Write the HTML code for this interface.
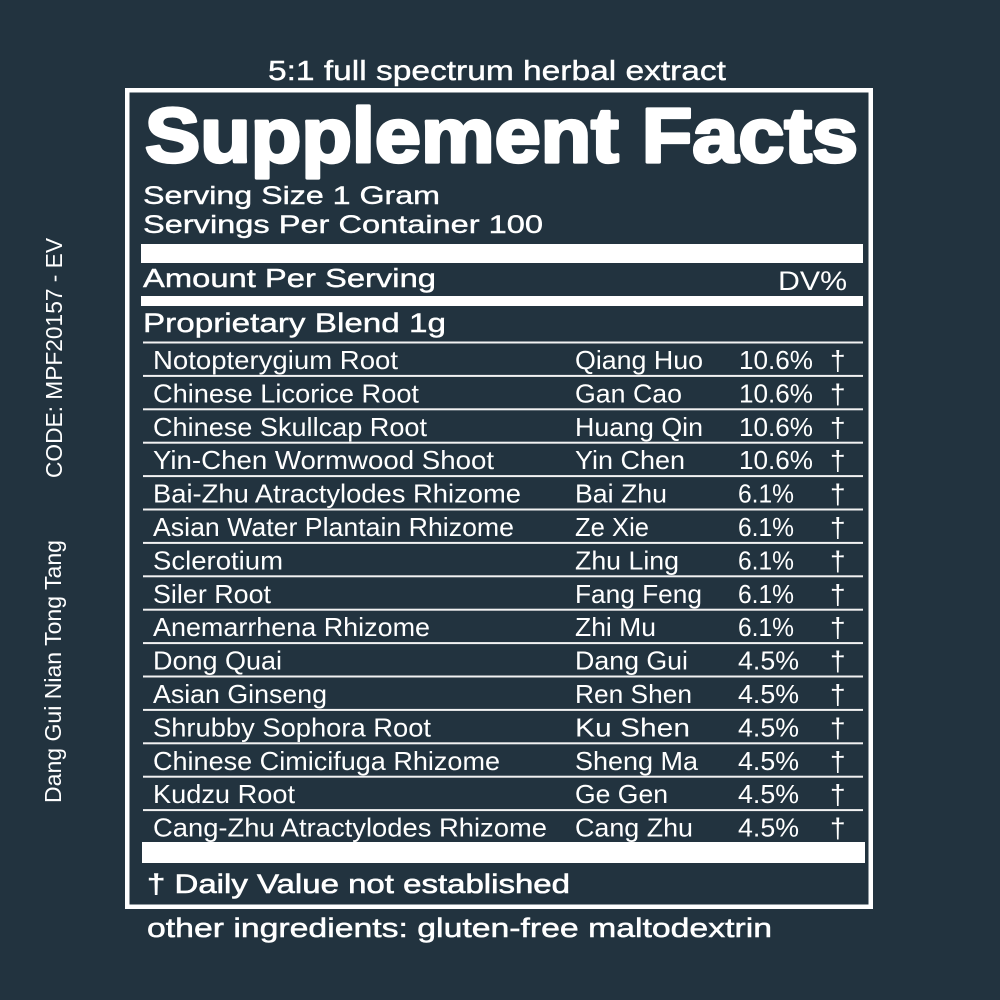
<!DOCTYPE html>
<html>
<head>
<meta charset="utf-8">
<style>
html,body{margin:0;padding:0;background:#22333f;}
svg{display:block;}
text{font-family:"Liberation Sans",Arial,sans-serif;fill:#ffffff;}
</style>
</head>
<body>
<svg width="1000" height="1000" viewBox="0 0 1000 1000" xmlns="http://www.w3.org/2000/svg">
<rect x="0" y="0" width="1000" height="1000" fill="#22333f"/>

<!-- vertical side texts -->
<text transform="translate(62,478) rotate(-90)" font-size="23" textLength="240" lengthAdjust="spacingAndGlyphs">CODE: MPF20157 - EV</text>
<text transform="translate(61,803) rotate(-90)" font-size="23" textLength="263" lengthAdjust="spacingAndGlyphs">Dang Gui Nian Tong Tang</text>

<!-- top caption -->
<text x="268" y="80" font-size="27.5" textLength="458" lengthAdjust="spacingAndGlyphs" stroke="#fff" stroke-width="0.4">5:1 full spectrum herbal extract</text>

<!-- box -->
<rect x="127.25" y="90.25" width="743.5" height="816.5" fill="none" stroke="#ffffff" stroke-width="4.5"/>

<!-- title -->
<text x="145" y="162" font-size="77" font-weight="bold" textLength="713" lengthAdjust="spacingAndGlyphs" stroke="#fff" stroke-width="3.2" stroke-linejoin="round">Supplement Facts</text>

<text x="143" y="204" font-size="25" textLength="297" lengthAdjust="spacingAndGlyphs" stroke="#fff" stroke-width="0.4">Serving Size 1 Gram</text>
<text x="143" y="233" font-size="25" textLength="400" lengthAdjust="spacingAndGlyphs" stroke="#fff" stroke-width="0.4">Servings Per Container 100</text>

<rect x="141" y="244" width="722" height="19" fill="#ffffff"/>

<text x="143" y="287" font-size="26" textLength="293" lengthAdjust="spacingAndGlyphs" stroke="#fff" stroke-width="0.4">Amount Per Serving</text>
<text x="778" y="290" font-size="27" textLength="69" lengthAdjust="spacingAndGlyphs">DV%</text>

<rect x="141" y="296" width="722" height="10" fill="#ffffff"/>

<text x="143" y="332" font-size="26.5" textLength="303" lengthAdjust="spacingAndGlyphs" stroke="#fff" stroke-width="0.4">Proprietary Blend 1g</text>

<!-- row lines -->
<g fill="#f2f2f2">
<rect x="143" y="341.5" width="720" height="2"/>
<rect x="143" y="374.9" width="720" height="2"/>
<rect x="143" y="408.3" width="720" height="2"/>
<rect x="143" y="441.7" width="720" height="2"/>
<rect x="143" y="475.1" width="720" height="2"/>
<rect x="143" y="508.5" width="720" height="2"/>
<rect x="143" y="541.9" width="720" height="2"/>
<rect x="143" y="575.3" width="720" height="2"/>
<rect x="143" y="608.7" width="720" height="2"/>
<rect x="143" y="642.1" width="720" height="2"/>
<rect x="143" y="675.5" width="720" height="2"/>
<rect x="143" y="708.9" width="720" height="2"/>
<rect x="143" y="742.3" width="720" height="2"/>
<rect x="143" y="775.7" width="720" height="2"/>
<rect x="143" y="809.1" width="720" height="2"/>
</g>

<g font-size="26">
<!-- row 1 -->
<text x="153" y="369" textLength="245" lengthAdjust="spacingAndGlyphs">Notopterygium Root</text>
<text x="575" y="369" textLength="128" lengthAdjust="spacingAndGlyphs">Qiang Huo</text>
<text x="739" y="369" textLength="74" lengthAdjust="spacingAndGlyphs">10.6%</text>
<text x="830" y="370" font-size="28">†</text>
<!-- row 2 -->
<text x="153" y="402.4" textLength="266" lengthAdjust="spacingAndGlyphs">Chinese Licorice Root</text>
<text x="575" y="402.4" textLength="107" lengthAdjust="spacingAndGlyphs">Gan Cao</text>
<text x="739" y="402.4" textLength="74" lengthAdjust="spacingAndGlyphs">10.6%</text>
<text x="830" y="403.4" font-size="28">†</text>
<!-- row 3 -->
<text x="153" y="435.8" textLength="274" lengthAdjust="spacingAndGlyphs">Chinese Skullcap Root</text>
<text x="575" y="435.8" textLength="128" lengthAdjust="spacingAndGlyphs">Huang Qin</text>
<text x="739" y="435.8" textLength="74" lengthAdjust="spacingAndGlyphs">10.6%</text>
<text x="830" y="436.8" font-size="28">†</text>
<!-- row 4 -->
<text x="153" y="469.2" textLength="341" lengthAdjust="spacingAndGlyphs">Yin-Chen Wormwood Shoot</text>
<text x="575" y="469.2" textLength="110" lengthAdjust="spacingAndGlyphs">Yin Chen</text>
<text x="739" y="469.2" textLength="74" lengthAdjust="spacingAndGlyphs">10.6%</text>
<text x="830" y="470.2" font-size="28">†</text>
<!-- row 5 -->
<text x="153" y="502.6" textLength="368" lengthAdjust="spacingAndGlyphs">Bai-Zhu Atractylodes Rhizome</text>
<text x="575" y="502.6" textLength="92" lengthAdjust="spacingAndGlyphs">Bai Zhu</text>
<text x="738" y="502.6" textLength="56" lengthAdjust="spacingAndGlyphs">6.1%</text>
<text x="830" y="503.6" font-size="28">†</text>
<!-- row 6 -->
<text x="153" y="536" textLength="361" lengthAdjust="spacingAndGlyphs">Asian Water Plantain Rhizome</text>
<text x="575" y="536" textLength="74" lengthAdjust="spacingAndGlyphs">Ze Xie</text>
<text x="738" y="536" textLength="56" lengthAdjust="spacingAndGlyphs">6.1%</text>
<text x="830" y="537" font-size="28">†</text>
<!-- row 7 -->
<text x="153" y="569.4" textLength="130" lengthAdjust="spacingAndGlyphs">Sclerotium</text>
<text x="575" y="569.4" textLength="104" lengthAdjust="spacingAndGlyphs">Zhu Ling</text>
<text x="738" y="569.4" textLength="56" lengthAdjust="spacingAndGlyphs">6.1%</text>
<text x="830" y="570.4" font-size="28">†</text>
<!-- row 8 -->
<text x="153" y="602.8" textLength="118" lengthAdjust="spacingAndGlyphs">Siler Root</text>
<text x="575" y="602.8" textLength="127" lengthAdjust="spacingAndGlyphs">Fang Feng</text>
<text x="738" y="602.8" textLength="56" lengthAdjust="spacingAndGlyphs">6.1%</text>
<text x="830" y="603.8" font-size="28">†</text>
<!-- row 9 -->
<text x="153" y="636.2" textLength="277" lengthAdjust="spacingAndGlyphs">Anemarrhena Rhizome</text>
<text x="575" y="636.2" textLength="81" lengthAdjust="spacingAndGlyphs">Zhi Mu</text>
<text x="738" y="636.2" textLength="56" lengthAdjust="spacingAndGlyphs">6.1%</text>
<text x="830" y="637.2" font-size="28">†</text>
<!-- row 10 -->
<text x="153" y="669.6" textLength="129" lengthAdjust="spacingAndGlyphs">Dong Quai</text>
<text x="575" y="669.6" textLength="113" lengthAdjust="spacingAndGlyphs">Dang Gui</text>
<text x="738" y="669.6" textLength="61" lengthAdjust="spacingAndGlyphs">4.5%</text>
<text x="830" y="670.6" font-size="28">†</text>
<!-- row 11 -->
<text x="153" y="703" textLength="174" lengthAdjust="spacingAndGlyphs">Asian Ginseng</text>
<text x="575" y="703" textLength="117" lengthAdjust="spacingAndGlyphs">Ren Shen</text>
<text x="738" y="703" textLength="61" lengthAdjust="spacingAndGlyphs">4.5%</text>
<text x="830" y="704" font-size="28">†</text>
<!-- row 12 -->
<text x="153" y="736.4" textLength="278" lengthAdjust="spacingAndGlyphs">Shrubby Sophora Root</text>
<text x="575" y="736.4" textLength="115" lengthAdjust="spacingAndGlyphs">Ku Shen</text>
<text x="738" y="736.4" textLength="61" lengthAdjust="spacingAndGlyphs">4.5%</text>
<text x="830" y="737.4" font-size="28">†</text>
<!-- row 13 -->
<text x="153" y="769.8" textLength="347" lengthAdjust="spacingAndGlyphs">Chinese Cimicifuga Rhizome</text>
<text x="575" y="769.8" textLength="123" lengthAdjust="spacingAndGlyphs">Sheng Ma</text>
<text x="738" y="769.8" textLength="61" lengthAdjust="spacingAndGlyphs">4.5%</text>
<text x="830" y="770.8" font-size="28">†</text>
<!-- row 14 -->
<text x="153" y="803.2" textLength="142" lengthAdjust="spacingAndGlyphs">Kudzu Root</text>
<text x="575" y="803.2" textLength="93" lengthAdjust="spacingAndGlyphs">Ge Gen</text>
<text x="738" y="803.2" textLength="61" lengthAdjust="spacingAndGlyphs">4.5%</text>
<text x="830" y="804.2" font-size="28">†</text>
<!-- row 15 -->
<text x="153" y="836.6" textLength="394" lengthAdjust="spacingAndGlyphs">Cang-Zhu Atractylodes Rhizome</text>
<text x="575" y="836.6" textLength="118" lengthAdjust="spacingAndGlyphs">Cang Zhu</text>
<text x="738" y="836.6" textLength="61" lengthAdjust="spacingAndGlyphs">4.5%</text>
<text x="830" y="837.6" font-size="28">†</text>
</g>

<rect x="142" y="842" width="723" height="21" fill="#ffffff"/>

<text x="147" y="893" font-size="26.5" textLength="423" lengthAdjust="spacingAndGlyphs" stroke="#fff" stroke-width="0.6">† Daily Value not established</text>

<text x="147" y="937" font-size="27" textLength="625" lengthAdjust="spacingAndGlyphs" stroke="#fff" stroke-width="0.5">other ingredients: gluten-free maltodextrin</text>
</svg>
</body>
</html>
